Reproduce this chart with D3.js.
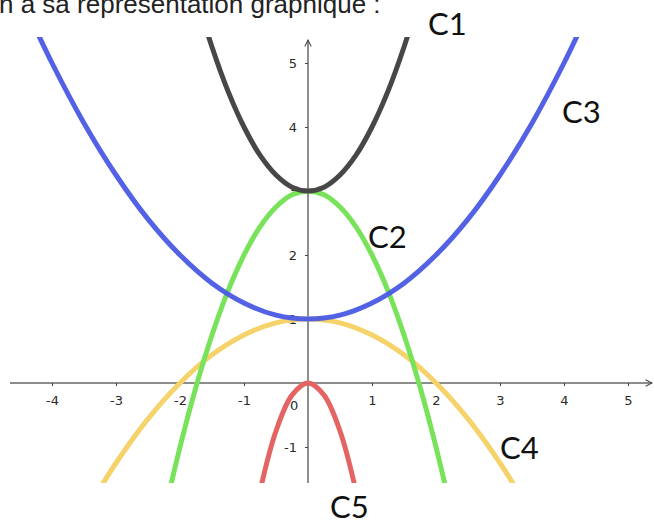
<!DOCTYPE html>
<html lang="fr">
<head>
<meta charset="utf-8">
<title>Paraboles C1 à C5</title>
<script src="https://cdn.jsdelivr.net/npm/d3@7"></script>
<style>
body { margin: 0; background: #fff; }
svg { display: block; }
.tick text { font-family: "DejaVu Sans", sans-serif; font-size: 13px; fill: #2a2a2a; }
.tick line { stroke: #444; }
.curve { fill: none; stroke-width: 5px; stroke-linecap: butt; }
.lbl { font-family: Lato, "Open Sans", sans-serif; font-size: 31px; fill: #111; }
.intro { font-family: "Liberation Sans", Arial, sans-serif; font-size: 26px; fill: #222; }
</style>
</head>
<body>
<script>
{
  // curves: [x, y] pairs
  var c1 = [[-1.75,6.06],[-1.5,5.25],[-1.25,4.56],[-1,4],[-0.75,3.56],[-0.5,3.25],[-0.25,3.06],[0,3],
            [0.25,3.06],[0.5,3.25],[0.75,3.56],[1,4],[1.25,4.56],[1.5,5.25],[1.75,6.06]];
  var c2 = [[-2.25,-2.06],[-2,-1],[-1.75,-0.06],[-1.5,0.75],[-1.25,1.44],[-1,2],[-0.75,2.44],[-0.5,2.75],[-0.25,2.94],[0,3],
            [0.25,2.94],[0.5,2.75],[0.75,2.44],[1,2],[1.25,1.44],[1.5,0.75],[1.75,-0.06],[2,-1],[2.25,-2.06]];
  var c3 = [[-4.5,6.06],[-4,5],[-3.5,4.06],[-3,3.25],[-2.5,2.56],[-2,2],[-1.5,1.56],[-1,1.25],[-0.5,1.06],[0,1],
            [0.5,1.06],[1,1.25],[1.5,1.56],[2,2],[2.5,2.56],[3,3.25],[3.5,4.06],[4,5],[4.5,6.06]];
  var c4 = [[-3.5,-2.06],[-3,-1.25],[-2.5,-0.56],[-2,0],[-1.5,0.44],[-1,0.75],[-0.5,0.94],[0,1],
            [0.5,0.94],[1,0.75],[1.5,0.44],[2,0],[2.5,-0.56],[3,-1.25],[3.5,-2.06]];
  var c5 = [[-1,-3],[-0.75,-1.69],[-0.5,-0.75],[-0.25,-0.19],[0,0],[0.25,-0.19],[0.5,-0.75],[0.75,-1.69],[1,-3]];

  var xTicks = [-4,-3,-2,-1,1,2,3,4,5];
  var yTicks = [-1,1,2,3,4,5];
  var names = ["C1","C2","C3","C4","C5"];

  var w = 654, h = 524;
  var svg = d3.select("body").append("svg").attr("width", w).attr("height", h);

  var x = d3.scaleLinear().domain([0, 1]).range([308, 372]);
  var y = d3.scaleLinear().domain([0, 1]).range([383, 319]);

  var plotTop = 37, plotBottom = 483;
  var fmt = function(d){ return String(d); };

  var defs = svg.append("defs");
  defs.append("clipPath").attr("id", "clip")
    .append("rect").attr("x", 0).attr("y", plotTop).attr("width", w).attr("height", plotBottom - plotTop);
  defs.append("marker").attr("id", "arr")
    .attr("viewBox", "0 0 10 10").attr("refX", 9).attr("refY", 5)
    .attr("markerWidth", 8).attr("markerHeight", 8).attr("orient", "auto").attr("markerUnits", "userSpaceOnUse")
    .append("path").attr("d", "M1,1 L9,5 L1,9").attr("fill", "none").attr("stroke", "#444").attr("stroke-width", 1.3);

  svg.append("text").attr("class", "intro").attr("x", -1).attr("y", 13)
     .text("n à sa représentation graphique :");

  // axes
  svg.append("line").attr("x1", 10).attr("x2", 652).attr("y1", y(0)).attr("y2", y(0))
     .attr("stroke", "#666").attr("stroke-width", 1.6).attr("marker-end", "url(#arr)");
  svg.append("line").attr("x1", x(0)).attr("x2", x(0)).attr("y1", plotBottom).attr("y2", 40)
     .attr("stroke", "#444").attr("stroke-width", 1.2).attr("marker-end", "url(#arr)");

  var gx = svg.append("g").attr("transform", "translate(0," + y(0) + ")")
     .call(d3.axisBottom(x).tickValues(xTicks).tickFormat(fmt).tickSize(3).tickPadding(10));
  gx.select(".domain").remove();

  var gy = svg.append("g").attr("transform", "translate(" + x(0) + ",0)")
     .call(d3.axisLeft(y).tickValues(yTicks).tickFormat(fmt).tickSize(3).tickPadding(8));
  gy.select(".domain").remove();

  svg.append("text").attr("x", x(0) - 18).attr("y", y(0) + 27)
     .style("font-family", "DejaVu Sans, sans-serif").style("font-size", "13px").style("fill", "#2a2a2a")
     .text("0");

  var line = d3.line().x(function(d){ return x(d[0]); }).y(function(d){ return y(d[1]); })
     .curve(d3.curveCatmullRom);

  var g = svg.append("g").attr("clip-path", "url(#clip)");
  g.append("path").attr("class", "curve").attr("d", line(c4)).attr("stroke", "#f5d36a");
  g.append("path").attr("class", "curve").attr("d", line(c2)).attr("stroke", "#78e35a");
  g.append("path").attr("class", "curve").attr("d", line(c3)).attr("stroke", "#4a5ae4").attr("stroke-opacity", 0.95);
  g.append("path").attr("class", "curve").attr("d", line(c1)).attr("stroke", "#474747");
  g.append("path").attr("class", "curve").attr("d", line(c5)).attr("stroke", "#e46464");

  var lblPos = [[428,35],[368,248],[562,123],[500,459],[330,518]];
  svg.selectAll("text.lbl").data(names).enter().append("text")
     .attr("class", "lbl")
     .attr("x", function(d,i){ return lblPos[i][0]; })
     .attr("y", function(d,i){ return lblPos[i][1]; })
     .text(function(d){ return d; });
}
</script>
</body>
</html>
